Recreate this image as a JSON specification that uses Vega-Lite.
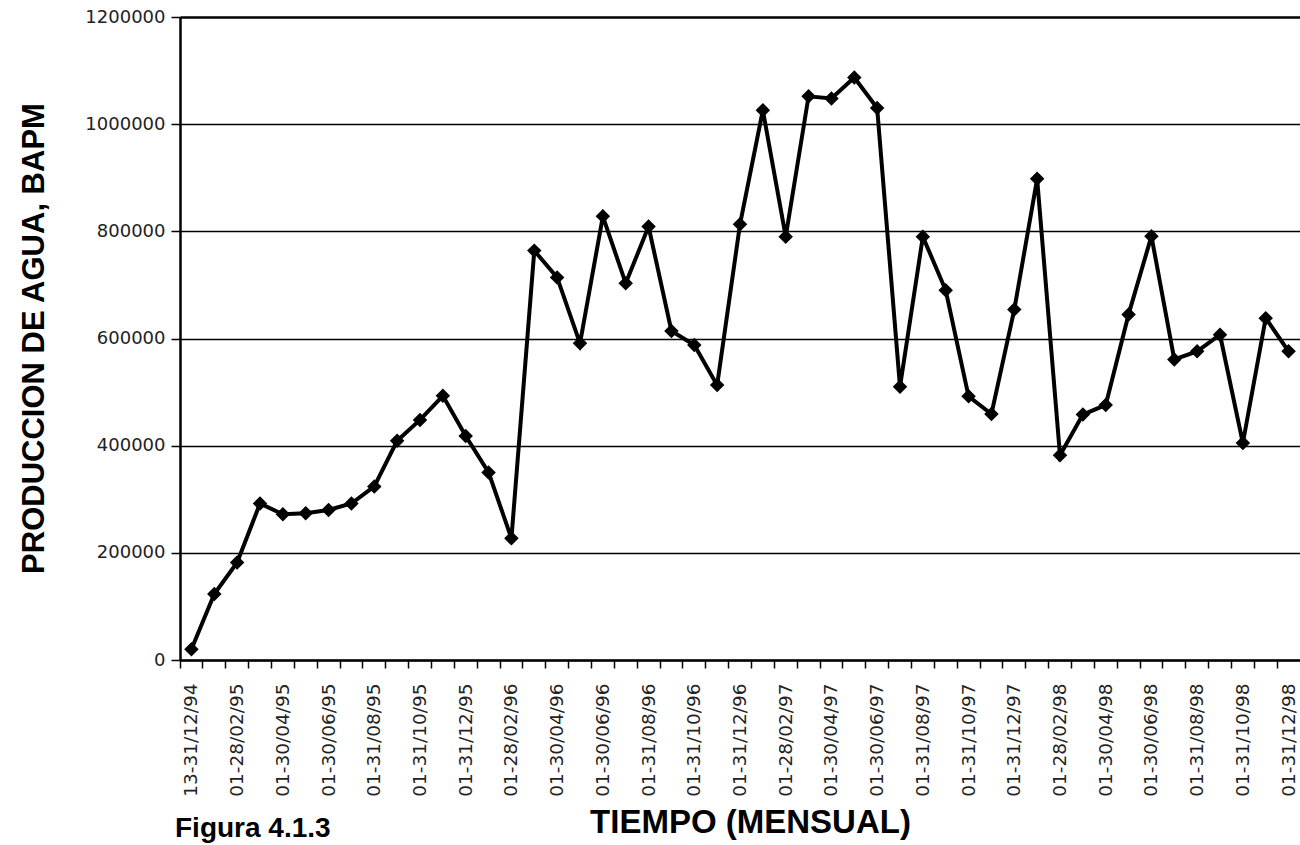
{
  "$schema": "https://vega.github.io/schema/vega-lite/v6.json",
  "width": 1120,
  "height": 643,
  "autosize": {"type": "none"},
  "padding": {"left": 180, "top": 17, "right": 0, "bottom": 185},
  "background": "white",
  "config": {"view": {"stroke": null}},
  "title": {
    "text": "Figura 4.1.3",
    "orient": "bottom",
    "anchor": "start",
    "frame": "group",
    "font": "Liberation Sans",
    "fontWeight": "bold",
    "fontSize": 28,
    "color": "black",
    "offset": -24,
    "dx": -5
  },
  "data": {
    "values": [
      {"periodo": "13-31/12/94", "agua": 20000},
      {"periodo": "01-31/01/95", "agua": 123000},
      {"periodo": "01-28/02/95", "agua": 182000},
      {"periodo": "01-31/03/95", "agua": 292000},
      {"periodo": "01-30/04/95", "agua": 272000},
      {"periodo": "01-31/05/95", "agua": 274000},
      {"periodo": "01-30/06/95", "agua": 280000},
      {"periodo": "01-31/07/95", "agua": 292000},
      {"periodo": "01-31/08/95", "agua": 324000},
      {"periodo": "01-30/09/95", "agua": 409000},
      {"periodo": "01-31/10/95", "agua": 448000},
      {"periodo": "01-30/11/95", "agua": 493000},
      {"periodo": "01-31/12/95", "agua": 418000},
      {"periodo": "01-31/01/96", "agua": 350000},
      {"periodo": "01-28/02/96", "agua": 227000},
      {"periodo": "01-31/03/96", "agua": 764000},
      {"periodo": "01-30/04/96", "agua": 714000},
      {"periodo": "01-31/05/96", "agua": 591000},
      {"periodo": "01-30/06/96", "agua": 828000},
      {"periodo": "01-31/07/96", "agua": 703000},
      {"periodo": "01-31/08/96", "agua": 809000},
      {"periodo": "01-30/09/96", "agua": 614000},
      {"periodo": "01-31/10/96", "agua": 588000},
      {"periodo": "01-30/11/96", "agua": 513000},
      {"periodo": "01-31/12/96", "agua": 813000},
      {"periodo": "01-31/01/97", "agua": 1026000},
      {"periodo": "01-28/02/97", "agua": 790000},
      {"periodo": "01-31/03/97", "agua": 1052000},
      {"periodo": "01-30/04/97", "agua": 1048000},
      {"periodo": "01-31/05/97", "agua": 1087000},
      {"periodo": "01-30/06/97", "agua": 1030000},
      {"periodo": "01-31/07/97", "agua": 510000},
      {"periodo": "01-31/08/97", "agua": 790000},
      {"periodo": "01-30/09/97", "agua": 690000},
      {"periodo": "01-31/10/97", "agua": 492000},
      {"periodo": "01-30/11/97", "agua": 459000},
      {"periodo": "01-31/12/97", "agua": 654000},
      {"periodo": "01-31/01/98", "agua": 898000},
      {"periodo": "01-28/02/98", "agua": 382000},
      {"periodo": "01-31/03/98", "agua": 458000},
      {"periodo": "01-30/04/98", "agua": 476000},
      {"periodo": "01-31/05/98", "agua": 645000},
      {"periodo": "01-30/06/98", "agua": 791000},
      {"periodo": "01-31/07/98", "agua": 561000},
      {"periodo": "01-31/08/98", "agua": 576000},
      {"periodo": "01-30/09/98", "agua": 607000},
      {"periodo": "01-31/10/98", "agua": 405000},
      {"periodo": "01-30/11/98", "agua": 638000},
      {"periodo": "01-31/12/98", "agua": 576000}
    ]
  },
  "encoding": {
    "y": {
      "field": "agua",
      "type": "quantitative",
      "scale": {"domain": [0, 1200000], "nice": false, "zero": true},
      "axis": {
        "values": [0, 200000, 400000, 600000, 800000, 1000000, 1200000],
        "format": "d",
        "grid": true,
        "gridColor": "black",
        "gridOpacity": 1,
        "gridWidth": {"condition": {"test": "datum.value == 1200000", "value": 2.5}, "value": 1.4},
        "domain": true,
        "domainColor": "black",
        "domainWidth": 2.5,
        "ticks": true,
        "tickSize": 9,
        "tickColor": "black",
        "tickWidth": 1.5,
        "labelFont": "DejaVu Sans",
        "labelFontSize": 18,
        "labelColor": "#222222",
        "labelPadding": 6,
        "title": "PRODUCCION DE AGUA, BAPM",
        "titleFont": "Liberation Sans",
        "titleFontWeight": "bold",
        "titleFontSize": 31,
        "titleColor": "black",
        "titleAngle": -90,
        "titleX": -137,
        "titleY": 321,
        "titleBaseline": "alphabetic",
        "titleAlign": "center"
      }
    }
  },
  "layer": [
    {
      "mark": {"type": "line", "color": "black", "strokeWidth": 4},
      "encoding": {
        "x": {
          "field": "periodo",
          "type": "ordinal",
          "sort": null,
          "scale": {"type": "band", "paddingInner": 0, "paddingOuter": 0},
          "axis": {
            "orient": "bottom",
            "values": ["13-31/12/94", "01-28/02/95", "01-30/04/95", "01-30/06/95", "01-31/08/95", "01-31/10/95", "01-31/12/95", "01-28/02/96", "01-30/04/96", "01-30/06/96", "01-31/08/96", "01-31/10/96", "01-31/12/96", "01-28/02/97", "01-30/04/97", "01-30/06/97", "01-31/08/97", "01-31/10/97", "01-31/12/97", "01-28/02/98", "01-30/04/98", "01-30/06/98", "01-31/08/98", "01-31/10/98", "01-31/12/98"],
            "labelAngle": -90,
            "labelAlign": "right",
            "labelBaseline": "middle",
            "labelOverlap": false,
            "ticks": false,
            "tickSize": 0,
            "grid": false,
            "domain": true,
            "domainColor": "black",
            "domainWidth": 2.5,
            "labelFont": "DejaVu Sans",
            "labelFontSize": 18.5,
            "labelColor": "#222222",
            "labelPadding": 23,
            "title": "TIEMPO (MENSUAL)",
            "titleFont": "Liberation Sans",
            "titleFontWeight": "bold",
            "titleFontSize": 33,
            "titleColor": "black",
            "titleX": 570,
            "titleY": 172,
            "titleBaseline": "alphabetic",
            "titleAlign": "center"
          }
        }
      }
    },
    {
      "mark": {"type": "point", "shape": "diamond", "filled": true, "color": "black", "opacity": 1, "size": 210},
      "encoding": {
        "x": {
          "field": "periodo",
          "type": "ordinal",
          "sort": null,
          "scale": {"type": "band", "paddingInner": 0, "paddingOuter": 0},
          "axis": {
            "orient": "bottom",
            "bandPosition": 0,
            "labels": false,
            "ticks": true,
            "tickSize": 8,
            "tickColor": "black",
            "tickWidth": 1.5,
            "domain": false,
            "grid": false,
            "title": null
          }
        }
      }
    }
  ],
  "resolve": {"axis": {"x": "independent"}}
}
